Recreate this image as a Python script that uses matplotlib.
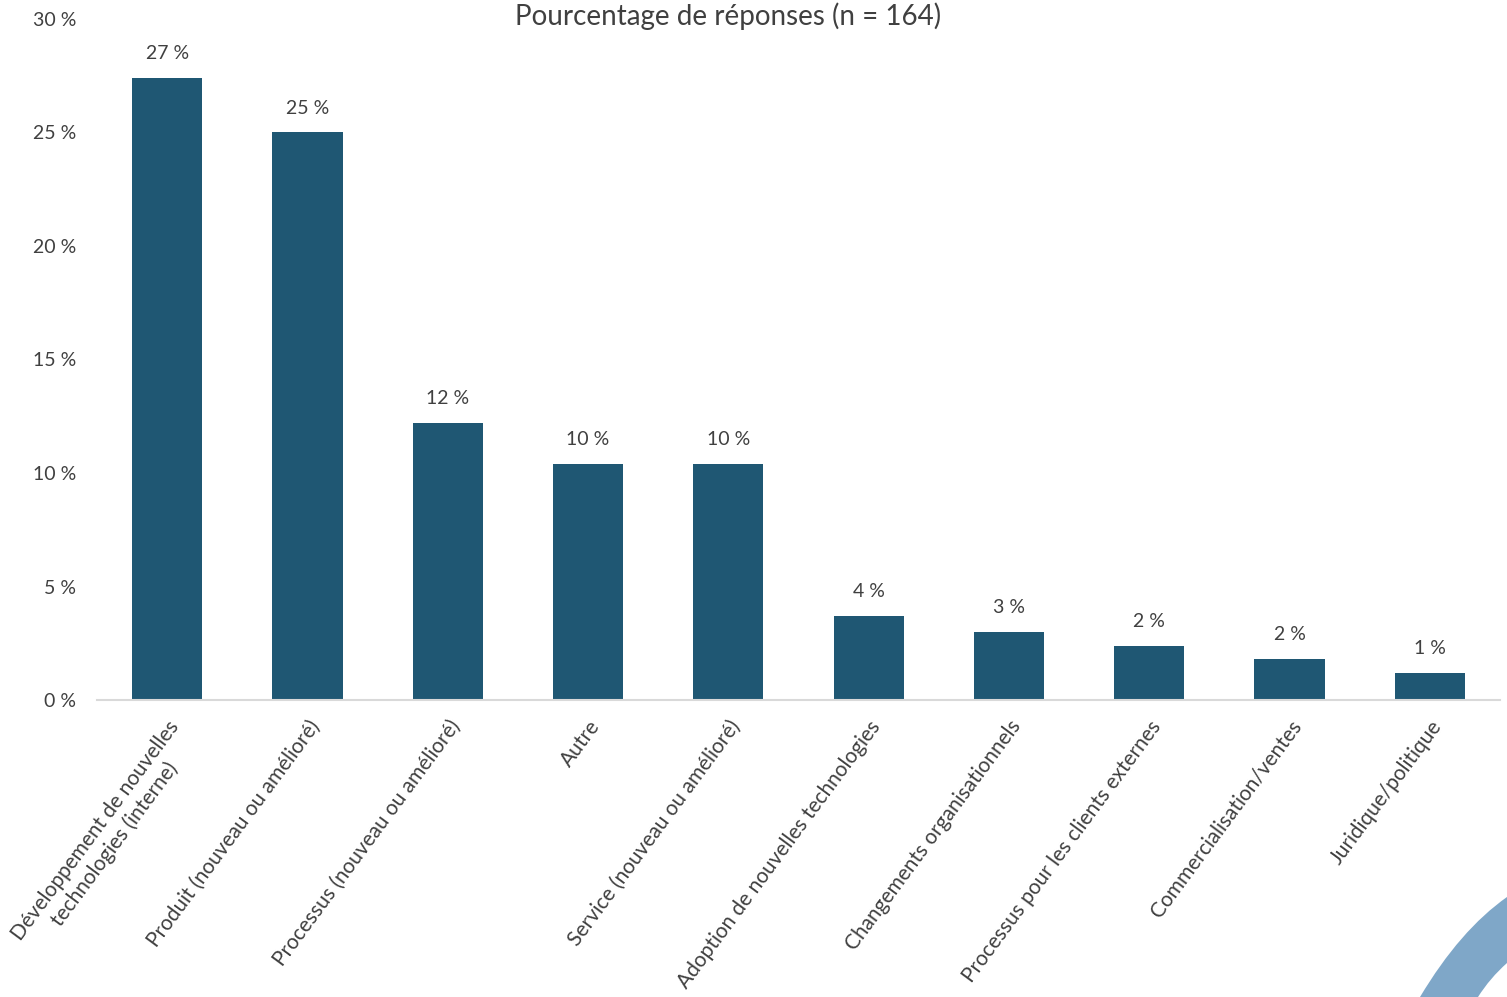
import matplotlib
matplotlib.use("Agg")
import matplotlib.pyplot as plt
from matplotlib.patches import PathPatch
from matplotlib.path import Path
from matplotlib.transforms import ScaledTranslation

categories = [
    "Développement de nouvelles\ntechnologies (interne)",
    "Produit (nouveau ou amélioré)",
    "Processus (nouveau ou amélioré)",
    "Autre",
    "Service (nouveau ou amélioré)",
    "Adoption de nouvelles technologies",
    "Changements organisationnels",
    "Processus pour les clients externes",
    "Commercialisation/ventes",
    "Juridique/politique",
]
values = [27.4, 25.0, 12.2, 10.4, 10.4, 3.7, 3.0, 2.4, 1.8, 1.2]
value_labels = ["27 %", "25 %", "12 %", "10 %", "10 %", "4 %", "3 %", "2 %", "2 %", "1 %"]
yticks = [0, 5, 10, 15, 20, 25, 30]
ytick_labels = ["0 %", "5 %", "10 %", "15 %", "20 %", "25 %", "30 %"]
title = "Pourcentage de réponses (n = 164)"

plt.rcParams['font.family'] = ['Lato', 'DejaVu Sans']
W, H = 1507, 997
fig = plt.figure(figsize=(W / 100, H / 100), dpi=100)
ax = fig.add_axes([97 / W, (H - 700) / H, (1500 - 97) / W, (700 - 19) / H])

txt = "#404040"
ax.bar(range(len(values)), values, width=0.5, color="#1F5773", zorder=2)
for i, (v, lab) in enumerate(zip(values, value_labels)):
    ax.text(i, v + 0.7, lab, ha="center", va="bottom", fontsize=14, color=txt)

ax.set_xlim(-0.5, len(values) - 0.5)
ax.set_ylim(0, 30)
ax.set_yticks(yticks)
ax.set_yticklabels(ytick_labels, fontsize=14, color=txt)
ax.set_xticks(range(len(values)))
ax.set_xticklabels(categories, rotation=53.5, ha="right", va="top",
                   rotation_mode="anchor", fontsize=15, color=txt,
                   multialignment="center")
offset = ScaledTranslation(-7 / 100, 0, fig.dpi_scale_trans)
for lab in ax.get_xticklabels():
    lab.set_transform(lab.get_transform() + offset)
ax.tick_params(axis="both", length=0)
ax.tick_params(axis="y", pad=15)
ax.tick_params(axis="x", pad=12)
for s in ["top", "right", "left"]:
    ax.spines[s].set_visible(False)
ax.spines["bottom"].set_color("#D9D9D9")
ax.spines["bottom"].set_linewidth(1.5)

fig.text(728 / W, 1 - 16 / H, title, ha="center", va="center", fontsize=20, color=txt)

# decorative corner band
def fx(x):
    return x / W
def fy(y):
    return 1 - y / H
verts = [
    (fx(1420), fy(997)),
    (fx(1460), fy(930)), (fx(1507), fy(897)),
    (fx(1507), fy(963)),
    (fx(1490), fy(978)), (fx(1478), fy(997)),
    (fx(1420), fy(997)),
]
codes = [Path.MOVETO, Path.CURVE3, Path.CURVE3, Path.LINETO,
         Path.CURVE3, Path.CURVE3, Path.CLOSEPOLY]
fig.patches.append(PathPatch(Path(verts, codes), transform=fig.transFigure,
                             facecolor="#7FA7C8", edgecolor="none"))

fig.savefig("out.png", dpi=100)
